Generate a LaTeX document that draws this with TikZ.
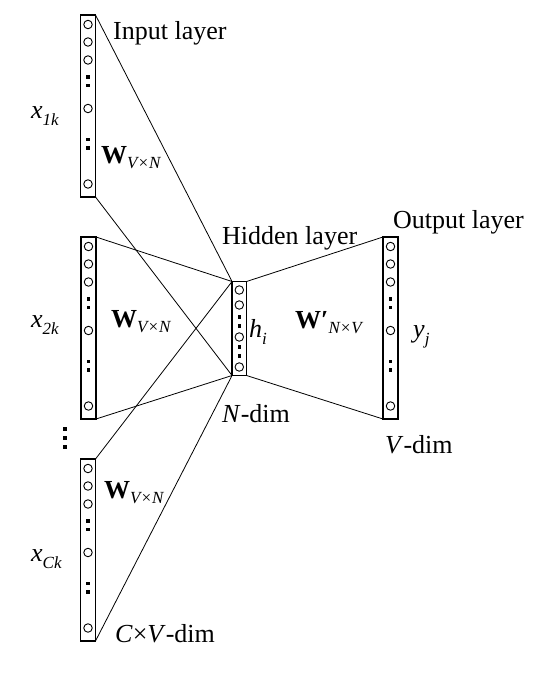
\documentclass[tikz,border=0pt]{standalone}
\usepackage{fontspec}
\setmainfont{Liberation Serif}
\newcommand{\bigsz}{\fontsize{26}{30}\selectfont}
\newcommand{\subsz}{\fontsize{17}{20}\selectfont}
\newcommand{\Wlab}[2]{\textbf{W}#1\raisebox{-5pt}{\subsz\itshape #2}}
\newcommand{\varlab}[2]{\textit{#1}\raisebox{-7pt}{\subsz\itshape #2}}
\begin{document}
\begin{tikzpicture}[x=1pt,y=-1pt,
  layerbox/.style={draw,line width=1.2pt,minimum width=15pt,inner sep=0pt,outer sep=0pt},
  unit/.style={draw,circle,line width=0.9pt,minimum size=8.5pt,inner sep=0pt},
  sq/.style={fill=black,minimum size=3.4pt,inner sep=0pt},
  wire/.style={line width=0.8pt},
  lab/.style={anchor=base west,inner sep=0pt,font=\bigsz}]
\useasboundingbox (0,0) rectangle (551,683);
% input boxes
\node[layerbox,minimum height=182pt] (in1) at (88,106) {};
\node[layerbox,minimum height=182pt] (in2) at (88.5,328) {};
\node[layerbox,minimum height=182pt] (in3) at (88,550) {};
\node[layerbox,minimum height=182pt] (out) at (390.5,328) {};
\node[layerbox,minimum width=14.5pt,minimum height=94pt] (hid) at (239.3,328.5) {};
% units in the tall layers
\foreach \b in {in1,in2,in3,out}{
  \foreach \d in {9.5,27,45,93.5,169}{
    \node[unit] at ([yshift=-\d pt]\b.north) {};}
  \foreach \d in {62,70.5,124.5,133}{
    \node[sq] at ([yshift=-\d pt]\b.north) {};}
}
% units in hidden layer
\foreach \d in {8.5,23.5,55.5,85.5}{
  \node[unit] at ([yshift=-\d pt]hid.north) {};}
\foreach \d in {35.5,44.5,65.5,74.5}{
  \node[sq] at ([yshift=-\d pt]hid.north) {};}
% vertical ellipsis between input 2 and 3
\node[sq] (e1) at (65,429) {};
\node[sq] (e2) at (65,438) {};
\node[sq] (e3) at (65,447) {};
% connectors
\draw[wire] (in1.north east) -- (hid.north west);
\draw[wire] (in1.south east) -- (hid.south west);
\draw[wire] (in2.north east) -- (hid.north west);
\draw[wire] (in2.south east) -- (hid.south west);
\draw[wire] (in3.north east) -- (hid.north west);
\draw[wire] (in3.south east) -- (hid.south west);
\draw[wire] (hid.north east) -- (out.north west);
\draw[wire] (hid.south east) -- (out.south west);
% labels
\node[lab] (tIn) at (113,39) {Input layer};
\node[lab] (tHid) at (222,244) {Hidden layer};
\node[lab] (tOut) at (393,228) {Output layer};
\node[lab] (x1) at (31,118) {\varlab{x}{1k}};
\node[lab] (x2) at (31,327) {\varlab{x}{2k}};
\node[lab] (x3) at (31,561) {\varlab{x}{Ck}};
\node[lab] (w1) at (101,163) {\Wlab{}{V×N}};
\node[lab] (w2) at (111,327) {\Wlab{}{V×N}};
\node[lab] (w3) at (104,498) {\Wlab{}{V×N}};
\node[lab] (w4) at (295,328) {\Wlab{\textbf{′}}{N×V}};
\node[lab] (hi) at (249,337) {\varlab{h}{i}};
\node[lab] (yj) at (413,337) {\varlab{y}{j}};
\node[lab] (nd) at (222,422) {\textit{N}-dim};
\node[lab] (vd) at (385,453) {\textit{V}-dim};
\node[lab] (cvd) at (115,642) {\textit{C}×\textit{V}-dim};
\end{tikzpicture}
\end{document}
